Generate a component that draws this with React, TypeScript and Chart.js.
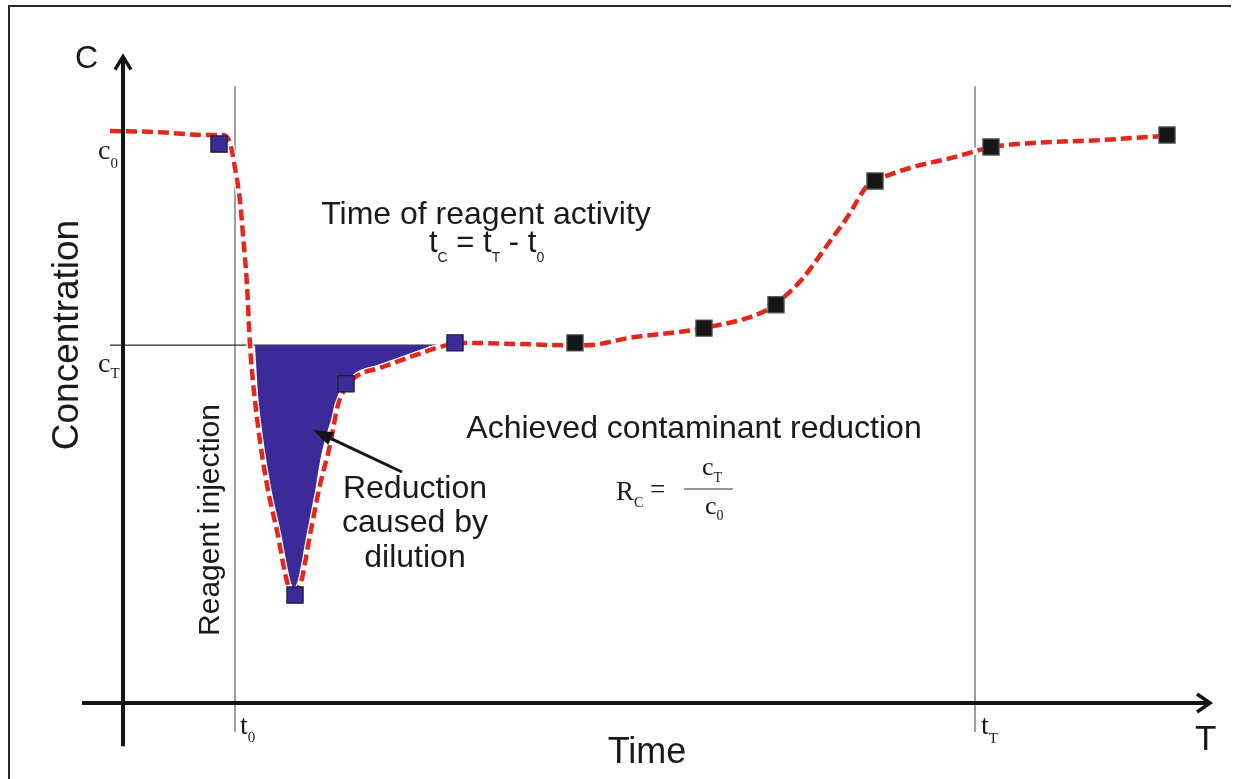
import React, { useEffect, useRef } from "react";
import { Chart, registerables } from "chart.js";

Chart.register(...registerables);

// Reference values
const c0 = 100;
const cT = 63;
const t0 = 11.2;
const tT = 85.2;

// Concentration curve (dashed red)
const curveTime = [-1.3, 3.7, 8.0, 10.0, 10.7, 11.2, 11.7, 12.0, 12.4, 12.7, 13.4, 14.4, 15.4, 16.5, 17.0, 17.7, 18.7, 19.7, 20.7, 21.5, 22.4, 23.4, 25.7, 29.0, 32.4, 34.0, 39.7, 44.0, 46.4, 50.7, 58.0, 64.4, 66.0, 68.0, 70.7, 72.5, 74.4, 75.2, 78.7, 82.7, 87.0, 91.0, 97.7, 103.7];
const curveConc = [100.7, 100.5, 100.0, 100.0, 98.6, 94.2, 88.4, 82.4, 73.6, 63.0, 50.2, 38.4, 30.3, 20.8, 19.9, 20.8, 29.6, 38.4, 45.4, 52.5, 55.8, 57.6, 59.0, 61.1, 63.0, 63.4, 63.2, 63.0, 63.0, 64.3, 66.0, 69.2, 71.3, 74.8, 81.3, 85.7, 91.0, 91.9, 94.2, 95.9, 97.9, 98.6, 99.1, 99.8];

// Dilution area (filled up to cT)
const dilutionTime = [13.2, 13.9, 15.0, 16.4, 17.1, 17.7, 18.7, 19.7, 20.7, 21.7, 23.0, 25.7, 28.2, 30.7];
const dilutionConc = [62.85, 44.4, 31.3, 22.9, 19.9, 21.1, 30.8, 42.6, 49.3, 54.2, 57.2, 58.6, 60.7, 62.85];

// Samples during reagent injection (blue squares)
const injectionTime = [9.6, 17.2, 22.3, 33.2];
const injectionConc = [98.4, 19.0, 56.2, 63.4];

// Samples afterwards (black squares)
const sampleTime = [45.2, 58.1, 65.3, 75.2, 86.8, 104.4];
const sampleConc = [63.4, 66.0, 70.1, 91.9, 97.9, 100.0];

// Axis extents (in data units)
const xAxisFrom = -4.1;
const xAxisTo = 108.7;
const yAxisFrom = -7.6;
const yAxisTo = 113.8;
const refLineTop = 108.6;
const refLineBottom = -5.1;
const cTLineFrom = -1.3;
const cTLineTo = 32.0;

const SANS = '"Liberation Sans", Arial, Helvetica, sans-serif';
const SERIF = '"Liberation Serif", "Times New Roman", serif';
const INK = "#1a1a1a";

type Part = [string, string, number];

function drawRich(ctx: CanvasRenderingContext2D, parts: Part[], x: number, y: number, align: "left" | "center" = "left") {
  let total = 0;
  for (const [t, f] of parts) {
    ctx.font = f;
    total += ctx.measureText(t).width;
  }
  let cx = align === "center" ? x - total / 2 : x;
  ctx.textAlign = "left";
  ctx.textBaseline = "alphabetic";
  for (const [t, f, dy] of parts) {
    ctx.font = f;
    ctx.fillText(t, cx, y + dy);
    cx += ctx.measureText(t).width;
  }
}

const toXY = (xs: number[], ys: number[]) => xs.map((x, i) => ({ x, y: ys[i] }));

export default function App() {
  const ref = useRef<HTMLCanvasElement>(null);

  useEffect(() => {
    const canvas = ref.current;
    if (!canvas) return;

    const schematic = {
      id: "schematic",
      beforeDatasetsDraw(chart: any) {
        const ctx: CanvasRenderingContext2D = chart.ctx;
        const xs = chart.scales.x;
        const ys = chart.scales.y;
        const X = (v: number) => xs.getPixelForValue(v);
        const Y = (v: number) => ys.getPixelForValue(v);
        ctx.save();
        // frame
        ctx.strokeStyle = "#2a2a2a";
        ctx.lineWidth = 2;
        ctx.beginPath();
        ctx.moveTo(9, 779);
        ctx.lineTo(9, 6);
        ctx.lineTo(1231, 6);
        ctx.stroke();
        // t0, tT lines
        ctx.strokeStyle = "#7d7d7d";
        ctx.lineWidth = 1.5;
        for (const t of [t0, tT]) {
          ctx.beginPath();
          ctx.moveTo(X(t), Y(refLineTop));
          ctx.lineTo(X(t), Y(refLineBottom));
          ctx.stroke();
        }
        // cT line
        ctx.strokeStyle = "#2a2a2a";
        ctx.lineWidth = 1.2;
        ctx.beginPath();
        ctx.moveTo(X(cTLineFrom), Y(cT));
        ctx.lineTo(X(cTLineTo), Y(cT));
        ctx.stroke();
        ctx.restore();
      },
      afterDatasetsDraw(chart: any) {
        const ctx: CanvasRenderingContext2D = chart.ctx;
        const xs = chart.scales.x;
        const ys = chart.scales.y;
        const X = (v: number) => xs.getPixelForValue(v);
        const Y = (v: number) => ys.getPixelForValue(v);
        ctx.save();
        // axes
        ctx.strokeStyle = "#141414";
        ctx.lineWidth = 4;
        ctx.lineCap = "butt";
        ctx.beginPath();
        ctx.moveTo(X(0), Y(yAxisFrom));
        ctx.lineTo(X(0), Y(yAxisTo) + 2);
        ctx.moveTo(X(xAxisFrom), Y(0));
        ctx.lineTo(X(xAxisTo) - 2, Y(0));
        ctx.stroke();
        // arrow heads
        ctx.lineWidth = 3.5;
        ctx.lineJoin = "miter";
        ctx.beginPath();
        const yt = Y(yAxisTo);
        ctx.moveTo(X(0) - 8, yt + 13);
        ctx.lineTo(X(0), yt);
        ctx.lineTo(X(0) + 8, yt + 13);
        const xt = X(xAxisTo);
        ctx.moveTo(xt - 13, Y(0) - 9);
        ctx.lineTo(xt, Y(0));
        ctx.lineTo(xt - 13, Y(0) + 9);
        ctx.stroke();

        // arrow to the dilution area
        ctx.strokeStyle = "#141414";
        ctx.fillStyle = "#141414";
        ctx.lineWidth = 3;
        const ax1 = 402, ay1 = 472, ax2 = 313, ay2 = 430;
        const ang = Math.atan2(ay2 - ay1, ax2 - ax1);
        const hl = 20, hw = 7;
        const bx = ax2 - hl * Math.cos(ang), by = ay2 - hl * Math.sin(ang);
        ctx.beginPath();
        ctx.moveTo(ax1, ay1);
        ctx.lineTo(bx, by);
        ctx.stroke();
        ctx.beginPath();
        ctx.moveTo(ax2, ay2);
        ctx.lineTo(bx + hw * Math.sin(ang), by - hw * Math.cos(ang));
        ctx.lineTo(bx - hw * Math.sin(ang), by + hw * Math.cos(ang));
        ctx.closePath();
        ctx.fill();

        // texts
        ctx.fillStyle = INK;
        ctx.textBaseline = "alphabetic";
        ctx.textAlign = "left";
        ctx.font = `32px ${SANS}`;
        ctx.fillText("C", 75, 68);
        ctx.font = `35px ${SANS}`;
        ctx.fillText("T", 1195, 750);
        ctx.textAlign = "center";
        ctx.font = `36px ${SANS}`;
        ctx.fillText("Time", 647, 763);
        ctx.font = `32px ${SANS}`;
        ctx.fillText("Time of reagent activity", 486, 224);
        ctx.fillText("Achieved contaminant reduction", 694, 438);
        ctx.fillText("Reduction", 415, 498);
        ctx.fillText("caused by", 415, 532);
        ctx.fillText("dilution", 415, 567);

        // rotated
        ctx.save();
        ctx.translate(78, 335);
        ctx.rotate(-Math.PI / 2);
        ctx.font = `37px ${SANS}`;
        ctx.textAlign = "center";
        ctx.fillText("Concentration", 0, 0);
        ctx.restore();
        ctx.save();
        ctx.translate(219, 520);
        ctx.rotate(-Math.PI / 2);
        ctx.font = `30px ${SANS}`;
        ctx.textAlign = "center";
        ctx.fillText("Reagent injection", 0, 0);
        ctx.restore();

        // t_C = t_T - t_0
        const mS = `31px ${SANS}`;
        const sS = `14px ${SANS}`;
        drawRich(ctx, [["t", mS, 0], ["C", sS, 10], [" = t", mS, 0], ["T", sS, 10], [" - t", mS, 0], ["0", sS, 10]], 429, 252);

        // serif labels
        const mT = `28px ${SERIF}`;
        const sT = `15px ${SERIF}`;
        drawRich(ctx, [["c", mT, 0], ["0", sT, 9]], 98, 159);
        drawRich(ctx, [["c", mT, 0], ["T", sT, 6]], 98, 372);
        drawRich(ctx, [["t", mT, 0], ["0", sT, 8]], 240, 734);
        drawRich(ctx, [["t", mT, 0], ["T", sT, 9]], X(tT) + 6, 734);

        // R_C = c_T / c_0
        const mR = `27px ${SERIF}`;
        const sR = `14px ${SERIF}`;
        drawRich(ctx, [["R", mR, 0], ["C", sR, 7], [" = ", mR, -2]], 616, 500);
        ctx.strokeStyle = "#777";
        ctx.lineWidth = 1.5;
        ctx.beginPath();
        ctx.moveTo(684, 489);
        ctx.lineTo(733, 489);
        ctx.stroke();
        ctx.fillStyle = INK;
        drawRich(ctx, [["c", `26px ${SERIF}`, 0], ["T", sR, 7]], 702, 475);
        drawRich(ctx, [["c", `26px ${SERIF}`, 0], ["0", sR, 6]], 705, 514);
        ctx.restore();
      },
    };

    const chart = new Chart(canvas, {
      type: "scatter",
      data: {
        datasets: [
          {
            label: "Injection samples",
            data: toXY(injectionTime, injectionConc),
            pointStyle: "rect",
            pointRadius: 11.5,
            backgroundColor: "#3a2c98",
            borderColor: "#1e1e2e",
            borderWidth: 1.2,
            showLine: false,
            order: 0,
          },
          {
            label: "Samples",
            data: toXY(sampleTime, sampleConc),
            pointStyle: "rect",
            pointRadius: 11.5,
            backgroundColor: "#151615",
            borderColor: "#5a5a5a",
            borderWidth: 1.2,
            showLine: false,
            order: 0,
          },
          {
            label: "Concentration",
            data: toXY(curveTime, curveConc),
            showLine: true,
            borderColor: "#e2271d",
            borderWidth: 4.5,
            borderDash: [11, 5],
            borderCapStyle: "butt",
            pointRadius: 0,
            cubicInterpolationMode: "monotone",
            fill: false,
            order: 1,
          },
          {
            label: "halo",
            data: toXY(curveTime, curveConc),
            showLine: true,
            borderColor: "#ffffff",
            borderWidth: 7,
            pointRadius: 0,
            cubicInterpolationMode: "monotone",
            fill: false,
            order: 2,
          },
          {
            label: "Dilution",
            data: toXY(dilutionTime, dilutionConc),
            showLine: true,
            borderColor: "rgba(0,0,0,0)",
            borderWidth: 1,
            backgroundColor: "#3c2a98",
            pointRadius: 0,
            cubicInterpolationMode: "monotone",
            fill: { value: cT },
            order: 3,
          },
        ] as any,
      },
      options: {
        responsive: false,
        animation: false,
        events: [],
        layout: { padding: 0, autoPadding: false },
        plugins: { legend: { display: false }, tooltip: { enabled: false } },
        scales: {
          x: { type: "linear", display: false, min: -12.3, max: 111.0 },
          y: { type: "linear", display: false, min: -76 / 5.68, max: 703 / 5.68 },
        },
      },
      plugins: [schematic],
    });

    return () => chart.destroy();
  }, []);

  return (
    <div style={{ position: "fixed", left: 0, top: 0, width: 1233, height: 779, background: "#fff" }}>
      <canvas ref={ref} width={1233} height={779} style={{ width: 1233, height: 779, display: "block" }} />
    </div>
  );
}
